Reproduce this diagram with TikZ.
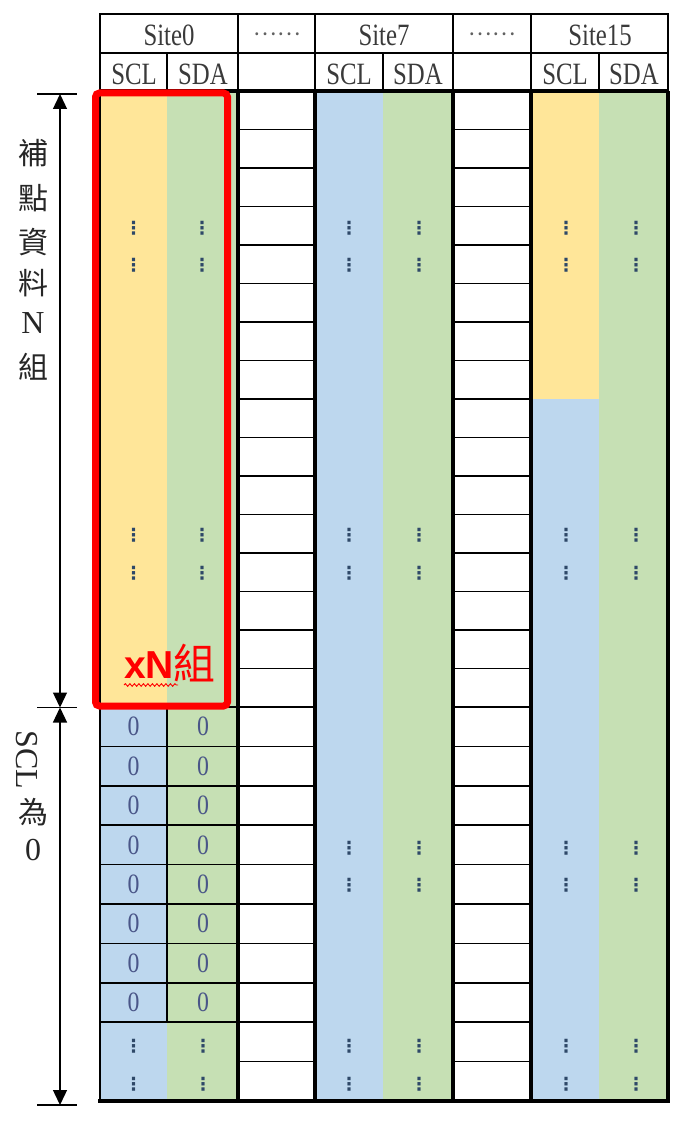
\documentclass[tikz,border=0pt]{standalone}
\usepackage{fontspec}
\setmainfont{Liberation Serif}
\newfontfamily\hdrfont[FakeStretch=0.8]{Liberation Serif}
\newfontfamily\zerofont[FakeStretch=0.85]{Liberation Serif}
\newfontfamily\cjkfont{Noto Sans CJK TC}
\newfontfamily\sansb{Liberation Sans}
\newfontfamily\symfont{DejaVu Sans}
\usetikzlibrary{arrows.meta,decorations.pathmorphing}
\definecolor{cyel}{HTML}{FFE699}
\definecolor{cgrn}{HTML}{C6E0B4}
\definecolor{cblu}{HTML}{BDD7EE}
\definecolor{hdrgray}{HTML}{3A3A3A}
\definecolor{dotcol}{HTML}{2E4868}
\definecolor{zerocol}{HTML}{4A5688}
\tikzset{
  thinln/.style={draw=black, line width=1.6pt},
  thickln/.style={draw=black, line width=3.2pt},
  hdrtxt/.style={inner sep=0pt, text=hdrgray, font=\hdrfont\fontsize{31}{31}\selectfont},
  gapdots/.style={inner sep=0pt, text=hdrgray!80, font=\cjkfont\fontsize{22}{22}\selectfont},
  vdots/.style={inner sep=0pt, text=dotcol, font=\symfont\bfseries\fontsize{18}{18}\selectfont},
  zero/.style={inner sep=0pt, text=zerocol, font=\zerofont\fontsize{28}{28}\selectfont},
  sidecjk/.style={inner sep=0pt, text=black!85, font=\cjkfont\fontsize{30}{30}\selectfont},
  sidelat/.style={inner sep=0pt, text=black!85, font=\fontsize{32}{32}\selectfont},
  dimarrow/.style={draw=black, line width=1.3pt, {Triangle[width=14pt,length=15pt]}-{Triangle[width=14pt,length=15pt]}},
  tick/.style={draw=black, line width=1.4pt},
  redbox/.style={draw=red, line width=7pt, rounded corners=4pt}
}
\begin{document}
\begin{tikzpicture}[x=1pt,y=-1pt]
\useasboundingbox (0,0) rectangle (689,1123);
% ---- fills
% Site0
\fill[cyel] (100,91) rectangle (167,707);
\fill[cgrn] (167,91) rectangle (238,707);
\fill[cblu] (100,707) rectangle (167,1101);
\fill[cgrn] (167,707) rectangle (238,1101);
% Site7
\fill[cblu] (315,91) rectangle (383,1101);
\fill[cgrn] (383,91) rectangle (453,1101);
% Site15
\fill[cyel] (531,91) rectangle (599,399);
\fill[cblu] (531,399) rectangle (599,1101);
\fill[cgrn] (599,91) rectangle (668,1101);
% ---- gap column rows
\foreach \k in {1,...,25}{
  \pgfmathsetmacro{\yy}{\k<17 ? 91+38.5*\k : 707+39.4*(\k-16)}
  \draw[thinln] (238,\yy) -- (315,\yy);
  \draw[thinln] (453,\yy) -- (531,\yy);
}
% ---- Site0 grid of zero rows
\foreach \k in {17,...,24}{
  \pgfmathsetmacro{\yy}{707+39.4*(\k-16)}
  \draw[thinln] (100,\yy) -- (238,\yy);
}
\draw[thinln] (100,707) -- (238,707);
\draw[thinln] (167,707) -- (167,1022.2);
% ---- header
\draw[thinln] (100,14) rectangle (668,91);
\draw[thinln] (100,53) -- (668,53);
\foreach \xx in {238,315,453,531}{ \draw[thinln] (\xx,14) -- (\xx,91); }
\foreach \xx in {167,383,599}{ \draw[thinln] (\xx,53) -- (\xx,91); }
% ---- thick body borders
\draw[thickln] (100,91) -- (668,91);
\foreach \xx in {238,315,453,531,668}{ \draw[thickln] (\xx,91) -- (\xx,1101); }
\draw[thinln, line width=2.4pt] (100,91) -- (100,1101);
\draw[thickln, line width=4pt] (98,1101) -- (670,1101);
% ---- header texts
\node[hdrtxt] (h0) at (169,35) {Site0};
\node[gapdots] (hd1) at (277,34) {……};
\node[hdrtxt] (h7) at (384,35) {Site7};
\node[gapdots] (hd2) at (492,34) {……};
\node[hdrtxt] (h15) at (600,35) {Site15};
\node[hdrtxt] (s0c) at (134,74) {SCL};
\node[hdrtxt] (s0d) at (203,74) {SDA};
\node[hdrtxt] (s7c) at (349,74) {SCL};
\node[hdrtxt] (s7d) at (418,74) {SDA};
\node[hdrtxt] (s15c) at (565,74) {SCL};
\node[hdrtxt] (s15d) at (634,74) {SDA};
% ---- vertical ellipses
\foreach \yy [count=\i] in {228,265,535,573}{
  \node[vdots] (a\i) at (133.5,\yy) {⋮};
  \node[vdots] (b\i) at (202,\yy) {⋮};
}
\foreach \yy [count=\i] in {228,265,535,573,848,885,1046,1084}{
  \node[vdots] (c\i) at (349,\yy) {⋮};
  \node[vdots] (d\i) at (419,\yy) {⋮};
  \node[vdots] (e\i) at (566,\yy) {⋮};
  \node[vdots] (f\i) at (636,\yy) {⋮};
}
\foreach \yy [count=\i] in {1046,1084}{
  \node[vdots] (g\i) at (133.5,\yy) {⋮};
  \node[vdots] (h\i) at (203,\yy) {⋮};
}
% ---- zeros
\foreach \k in {0,...,7}{
  \pgfmathsetmacro{\yy}{707+39.4*(\k+0.5)}
  \node[zero] (zc\k) at (133.5,\yy) {0};
  \node[zero] (zd\k) at (203,\yy) {0};
}
% ---- red box and label
\draw[redbox] (95.5,93) rectangle (227.5,706);
\node[inner sep=0pt, anchor=base west, text=red, font=\sansb\bfseries\fontsize{39}{39}\selectfont] (xn) at (124,678) {xN};
\node[inner sep=0pt, anchor=base west, text=red, font=\cjkfont\fontsize{42}{42}\selectfont] (zu) at ([xshift=-1pt, yshift=-1pt]xn.base east) {組};
\draw[red, line width=0.9pt, decorate, decoration={snake, amplitude=1.3pt, segment length=4.5pt}] (124,685) -- (178,685);
% ---- left dimension arrows
\coordinate (atop) at (60,94);
\coordinate (amid) at (60,707.5);
\coordinate (abot) at (60,1105);
\draw[dimarrow] (atop) -- (amid);
\draw[dimarrow] (amid) -- (abot);
\draw[tick] ([xshift=-23pt]atop) -- ([xshift=17pt]atop);
\draw[tick] ([xshift=-23pt]amid) -- ([xshift=17pt]amid);
\draw[tick] ([xshift=-23pt]abot) -- ([xshift=17pt]abot);
% ---- left labels
\node[sidecjk] (l1) at (33,153) {補};
\node[sidecjk] (l2) at (33,198) {點};
\node[sidecjk] (l3) at (33,242) {資};
\node[sidecjk] (l4) at (33,283) {料};
\node[sidelat] (l5) at (33,323) {N};
\node[sidecjk] (l6) at (33,367) {組};
\node[sidelat, rotate=-90] (m1) at (27,760) {SCL};
\node[sidecjk] (m2) at (33,812) {為};
\node[sidelat] (m3) at (33,850) {0};
\end{tikzpicture}
\end{document}
